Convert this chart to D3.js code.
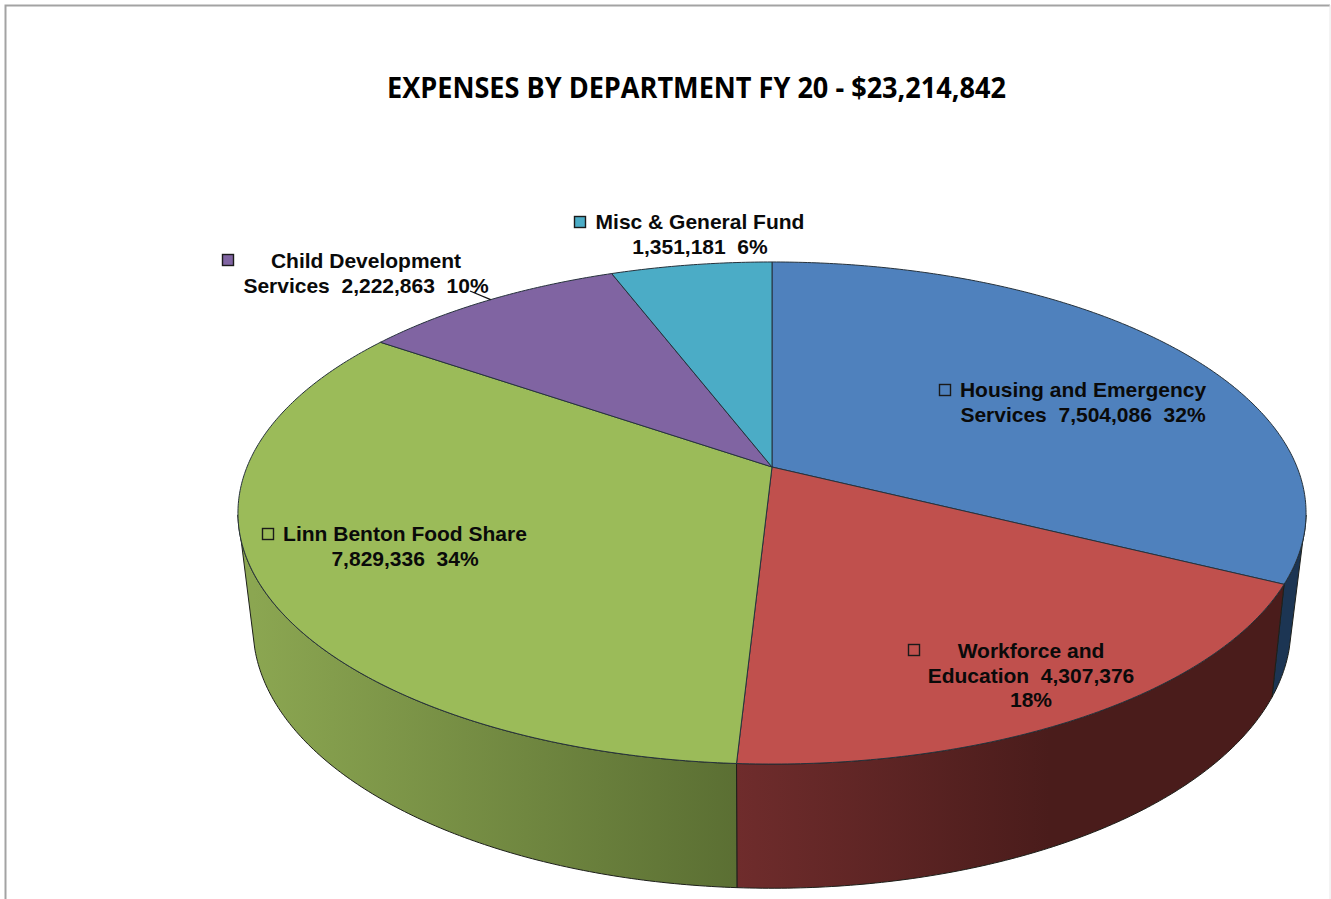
<!DOCTYPE html>
<html>
<head>
<meta charset="utf-8">
<script src="https://cdn.jsdelivr.net/npm/d3@7"></script>
<style>
    body { margin: 0; background: #fff; }
    svg { display: block; }
    text { white-space: pre; }
</style>
</head>
<body>
<div id="chart"></div>
<script>
const departments = ["Housing and Emergency Services", "Workforce and Education", "Linn Benton Food Share", "Child Development Services", "Misc & General Fund"];
const expenses = [7504086, 4307376, 7829336, 2222863, 1351181];
const title = "EXPENSES BY DEPARTMENT FY 20 - $23,214,842";
const labelLines = [
    ["Housing and Emergency", "Services  7,504,086  32%"],
    ["Workforce and", "Education  4,307,376", "18%"],
    ["Linn Benton Food Share", "7,829,336  34%"],
    ["Child Development", "Services  2,222,863  10%"],
    ["Misc & General Fund", "1,351,181  6%"]
];

const topColors = ["#4f81bd", "#c0504d", "#9bbb59", "#8064a2", "#4bacc6"];
const wallColors = [
    ["#1c3553", "#1c3553"],
    ["#6f2c2c", "#4a1c1b"],
    ["#8ba651", "#5b6f33"]
];

// label placement: centre of the text, first baseline, legend key centre
const labelLayout = [
    { x: 1083, y: 397, keyX: 945, keyY: 390 },
    { x: 1031, y: 658, keyX: 914, keyY: 650 },
    { x: 405, y: 541, keyX: 268, keyY: 534 },
    { x: 366, y: 268, keyX: 228, keyY: 260 },
    { x: 700, y: 229, keyX: 580, keyY: 222 }
];

const width = 1331;
const height = 899;
const apex = [772, 467];

const svg = d3.select("#chart").append("svg")
    .attr("width", width)
    .attr("height", height);

// frame of the pasted chart, open at the bottom
svg.append("path")
    .attr("d", `M5.5,${height}V5.5H${width - 1}`)
    .attr("fill", "none")
    .attr("stroke", "#a3a3a3")
    .attr("stroke-width", 2);
svg.append("line")
    .attr("x1", width - 1).attr("x2", width - 1)
    .attr("y1", 5).attr("y2", height)
    .attr("stroke", "#e8e8e8");

// perspective view of a flat disc, angle measured clockwise from the back
function disc(cx, cy, radius, depth, tilt) {
    return angle => {
        const u = Math.sin(angle);
        const v = -Math.cos(angle);
        const w = 1 + tilt * v;
        return [cx + radius * u / w, cy + depth * v / w];
    };
}

const topDisc = disc(apex[0], apex[1], 525, 242.6, -0.1833);
const bottomDisc = disc(apex[0], 575, 508.5, 250.6, -0.2);

const arcs = d3.pie().sort(null).value(d => d)(expenses);
const line = d3.line();

function arcPoints(project, a0, a1) {
    const n = Math.max(2, Math.ceil(Math.abs(a1 - a0) / 0.01));
    return d3.range(n + 1).map(i => project(a0 + (a1 - a0) * i / n));
}

// the wall can only be seen between the two side edges of the pie
const deg = Math.PI / 180;
const topEdges = [101 * deg, 259 * deg];
const bottomEdges = [106 * deg, 254 * deg];

const defs = svg.append("defs");
wallColors.forEach((colors, i) => {
    const from = i === 2 ? 253 : 737;
    const to = i === 2 ? 737 : 1050;
    const grad = defs.append("linearGradient")
        .attr("id", `wall${i}`)
        .attr("gradientUnits", "userSpaceOnUse")
        .attr("x1", from).attr("x2", to)
        .attr("y1", 0).attr("y2", 0);
    grad.append("stop").attr("offset", 0).attr("stop-color", colors[0]);
    grad.append("stop").attr("offset", 1).attr("stop-color", colors[1]);
});

function wallPath(d) {
    const clamp = (a, edges) => Math.min(Math.max(a, edges[0]), edges[1]);
    const upper = arcPoints(topDisc, clamp(d.startAngle, topEdges), clamp(d.endAngle, topEdges));
    const lower = arcPoints(bottomDisc, clamp(d.endAngle, bottomEdges), clamp(d.startAngle, bottomEdges));
    return line(upper.concat(lower)) + "Z";
}

svg.append("g")
    .selectAll("path")
    .data(arcs.filter(d => d.startAngle < topEdges[1] && d.endAngle > topEdges[0]))
    .join("path")
    .attr("d", wallPath)
    .attr("fill", d => `url(#wall${d.index})`)
    .attr("stroke", "#1d1f1a")
    .attr("stroke-width", 1);

svg.append("g")
    .selectAll("path")
    .data(arcs)
    .join("path")
    .attr("d", d => line([apex].concat(arcPoints(topDisc, d.startAngle, d.endAngle))) + "Z")
    .attr("fill", d => topColors[d.index])
    .attr("stroke", "#26323c")
    .attr("stroke-width", 1)
    .attr("stroke-linejoin", "round");

// leader line of the child development label
const leaderEnd = topDisc(arcs[3].startAngle + (arcs[3].endAngle - arcs[3].startAngle) * 0.51);
svg.append("line")
    .attr("x1", 470).attr("y1", 291)
    .attr("x2", leaderEnd[0]).attr("y2", leaderEnd[1])
    .attr("stroke", "#111")
    .attr("stroke-width", 1.2);

svg.append("text")
    .attr("x", 696.5)
    .attr("y", 98)
    .attr("text-anchor", "middle")
    .attr("font-family", "'Open Sans', sans-serif")
    .attr("font-weight", 700)
    .attr("font-size", 28)
    .attr("textLength", 619)
    .attr("lengthAdjust", "spacingAndGlyphs")
    .attr("fill", "#000")
    .text(title);

const labels = svg.append("g")
    .selectAll("g")
    .data(labelLines.map((lines, i) => ({ lines, i, name: departments[i], pos: labelLayout[i] })))
    .join("g");

labels.append("rect")
    .attr("x", d => d.pos.keyX - 5.5)
    .attr("y", d => d.pos.keyY - 5.5)
    .attr("width", 11)
    .attr("height", 11)
    .attr("fill", d => topColors[d.i])
    .attr("stroke", "#1a1a1a")
    .attr("stroke-width", 1.4);

labels.each(function (d) {
    d3.select(this).selectAll("text")
        .data(d.lines)
        .join("text")
        .attr("x", d.pos.x)
        .attr("y", (t, j) => d.pos.y + j * 24.5)
        .attr("text-anchor", "middle")
        .attr("font-family", "'Liberation Sans', Arial, sans-serif")
        .attr("font-weight", 700)
        .attr("font-size", 21)
        .attr("fill", "#0a0a0a")
        .text(t => t);
});
</script>
</body>
</html>
